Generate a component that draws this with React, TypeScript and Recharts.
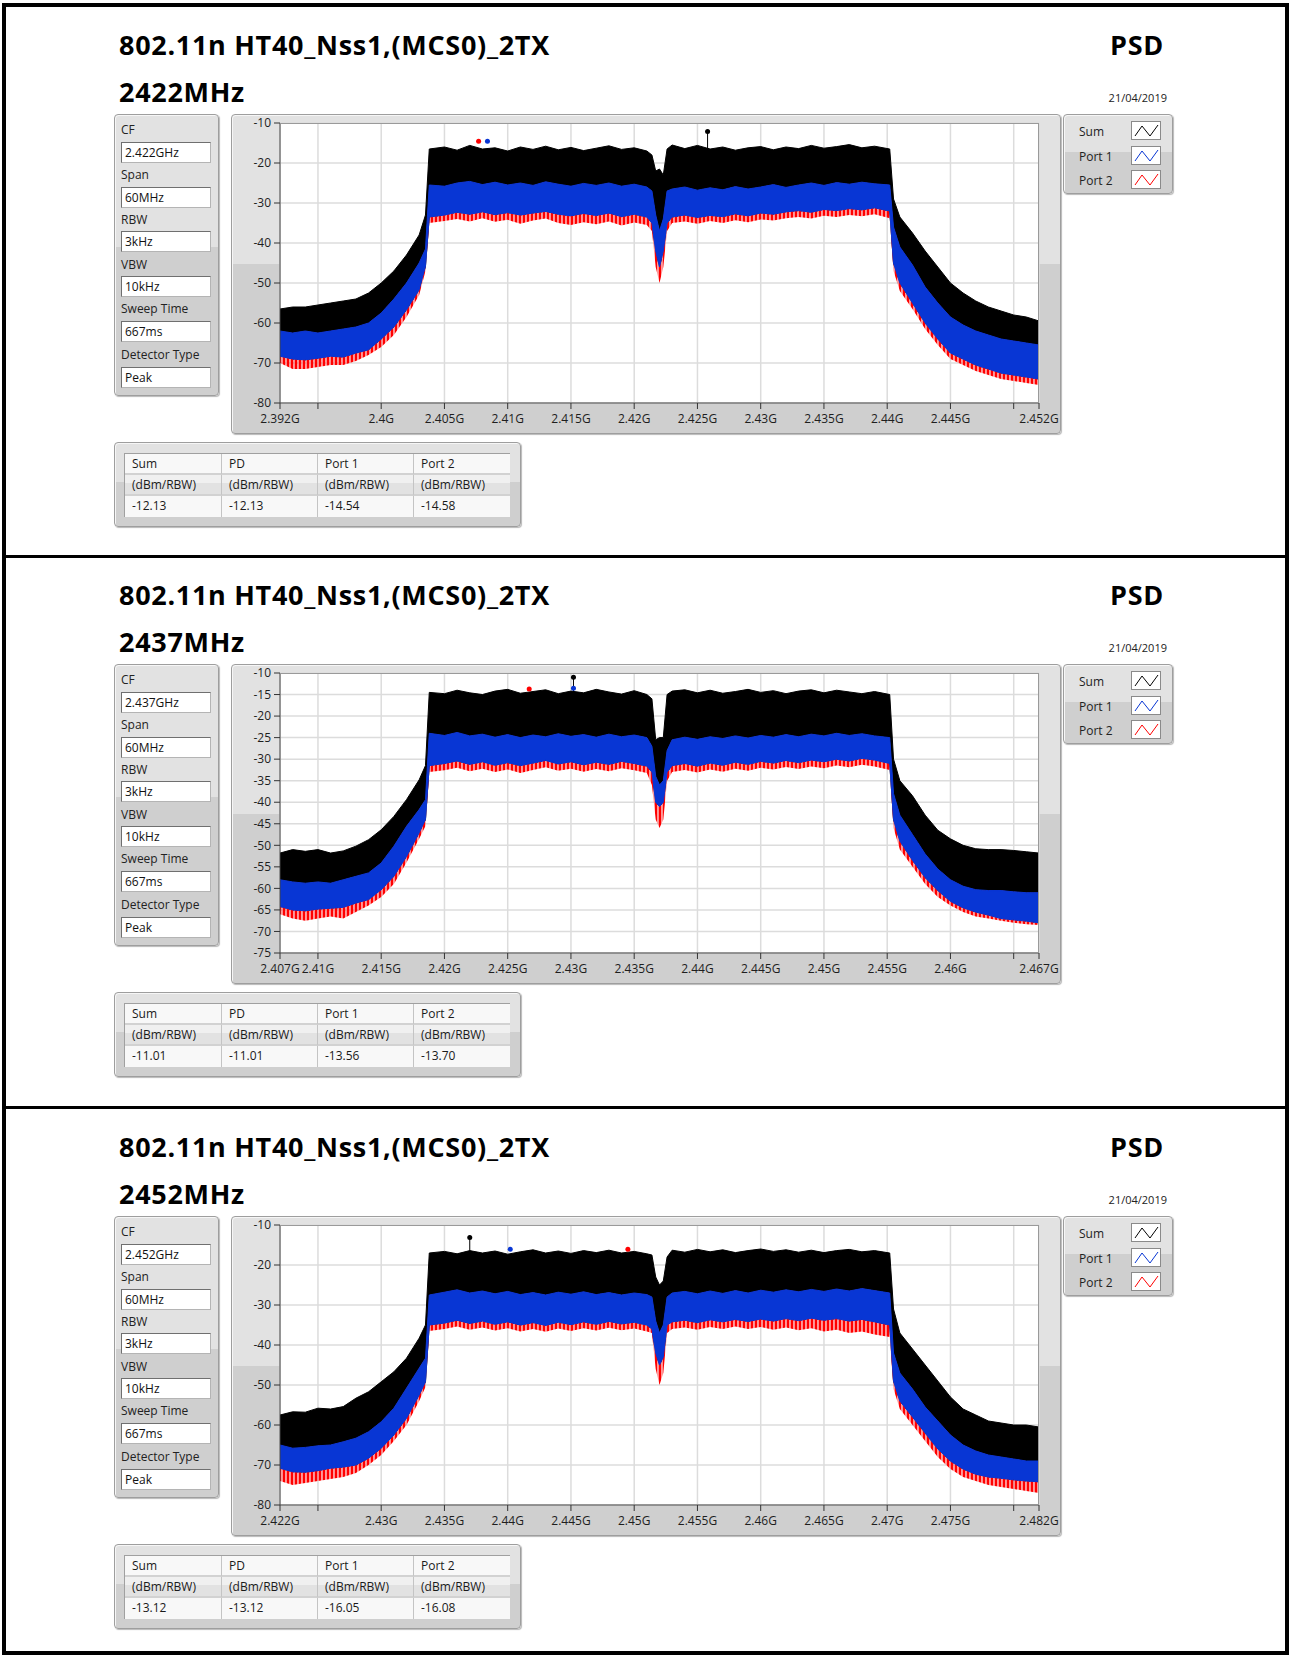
import React from 'react';
import { ComposedChart, Area, XAxis, YAxis, CartesianGrid, ReferenceDot, ReferenceLine } from 'recharts';

// Frequency grid: offsets from centre frequency (MHz)
const OFFSETS = [-30,-29,-28,-27,-26,-25,-24,-23,-22,-21,-20,-19,-18.5,-18.2,
  -17,-16,-15,-14,-13,-12,-11,-10,-9,-8,-7,-6,-5,-4,-3,-2,-1,
  -0.6,-0.3,0,0.3,0.6,
  1,2,3,4,5,6,7,8,9,10,11,12,13,14,15,16,17,
  18.2,18.5,19,20,21,22,23,24,25,26,27,28,29,30];

// ---- Panel 1 (2422 MHz) ----
const P1_SUM_HI = [-56.5,-56,-56,-55.5,-55,-54.5,-54,-52.5,-50,-47,-43,-38,-33,-16.5,
  -16,-16.8,-15.6,-16.5,-16.2,-17,-16,-16.6,-15.8,-16.7,-16.1,-16.9,-16.3,-15.7,-16.6,-16.2,-17,
  -18,-22,-21.5,-23,-16.5,
  -15.5,-16.4,-15.6,-16.5,-16,-16.8,-16.2,-15.9,-16.7,-16,-16.4,-15.6,-16.3,-15.9,-15.4,-16.2,-15.8,
  -16.5,-29,-33.5,-37.5,-42,-46,-50,-52.5,-54.5,-56,-57,-58,-58.5,-59.5];
const P1_PORT1_HI = [-62,-62.5,-62,-62.5,-62,-61.5,-61,-60,-57.5,-54,-50,-45,-41.5,-25.5,
  -25.8,-25,-24.6,-25.4,-24.8,-25.5,-25,-25.6,-24.7,-25.3,-25.8,-25.1,-25.6,-25,-25.8,-25.3,-26,
  -27,-33,-37,-34,-27,
  -26.5,-26,-26.8,-26.2,-26.7,-25.9,-26.5,-26,-25.4,-26.1,-25.5,-25,-25.6,-24.9,-25.3,-24.8,-25.2,
  -25.5,-36,-41,-45.5,-51,-55,-58.5,-60.5,-62,-63,-64,-64.5,-65,-65.5];
const P1_PORT1_LO = [-68.3,-69,-69.2,-68.8,-68.3,-68.5,-67.5,-66.7,-64,-61,-56.7,-51.7,-45.8,-33.5,
  -33,-32.3,-32.8,-32.2,-32.9,-32.4,-33,-32.5,-32.1,-32.8,-33.2,-32.6,-33.1,-32.5,-33.4,-32.8,-33.5,
  -35,-42,-46,-42,-35,
  -33.5,-33,-33.6,-33.1,-33.4,-32.7,-33.2,-32.5,-32.8,-32.2,-31.9,-32.3,-31.6,-31.9,-31.4,-31.7,-31.2,
  -32,-45,-50,-55,-60,-64,-67.5,-69,-70.5,-71.5,-72.5,-73,-73.5,-74];
const P1_PORT2_LO = [-70,-71.5,-71.5,-71,-70.5,-70.5,-69.5,-68,-66,-63,-58.5,-53,-47,-35,
  -34.5,-34,-34.6,-33.8,-34.7,-34.2,-35.2,-34.4,-33.9,-35,-35.5,-34.8,-35.3,-34.6,-35.6,-34.9,-35.5,
  -37,-46,-50,-46,-37,
  -35,-34.6,-35.2,-34.5,-35,-34.3,-34.8,-34.1,-34.4,-33.8,-33.5,-33.9,-33.2,-33.5,-33,-33.3,-32.8,
  -33.8,-47,-52,-56.5,-61.5,-65.5,-69,-70.5,-72,-73,-74,-74.5,-75,-75.5];

// ---- Panel 2 (2437 MHz) ----
const P2_SUM_HI = [-51.8,-51,-51.4,-51,-51.8,-51.3,-50.2,-48.7,-46.4,-43.3,-39.4,-34.8,-31.5,-14.5,
  -14.8,-14,-14.6,-15,-14.2,-13.8,-14.7,-14.3,-13.9,-14.8,-14.2,-14.6,-13.8,-14.4,-14.9,-14.1,-15,
  -16,-25.5,-25,-25,-15,
  -14.2,-13.9,-14.6,-14,-14.7,-14.3,-13.8,-14.5,-14.1,-14.8,-14.2,-13.9,-14.6,-14,-14.4,-14.8,-14.3,
  -15,-30,-35,-38.5,-43,-46.5,-48.5,-50,-50.8,-51,-51,-51.2,-51.5,-51.8];
const P2_PORT1_HI = [-58,-58.5,-58.8,-58.5,-58.8,-58,-57.2,-56.4,-54.1,-50.2,-45.6,-41.7,-39.4,-24,
  -24.5,-23.8,-24.6,-24.2,-24.9,-24.3,-25,-24.4,-24.8,-24.1,-24.7,-24.3,-24.9,-24.2,-24.8,-24.4,-25,
  -27,-34,-36,-35,-28,
  -25.5,-24.9,-25.4,-24.8,-25.2,-24.6,-25.1,-24.5,-24.9,-24.3,-24.8,-24.2,-24.6,-24,-24.5,-24.1,-24.6,
  -25,-38,-43,-47.5,-52,-55.5,-58,-59.5,-60.3,-60.5,-60.5,-60.8,-61,-61];
const P2_PORT1_LO = [-64.2,-65,-65.2,-64.8,-64.6,-64.4,-63.4,-62.6,-60.3,-57.2,-52.6,-47.1,-44,-31.5,
  -31,-30.4,-31.2,-30.6,-31.4,-30.8,-31.5,-30.9,-30.3,-31.1,-30.6,-31.3,-30.7,-31.2,-30.5,-31,-31.6,
  -33,-40,-41,-40,-33,
  -31.5,-31,-31.6,-30.9,-31.4,-30.7,-31.2,-30.5,-30.9,-30.3,-30.8,-30.2,-30.6,-30,-30.4,-29.8,-30.2,
  -31,-44,-49,-53.5,-57.5,-60.5,-63,-64.5,-65.5,-66.2,-67,-67.3,-67.6,-68];
const P2_PORT2_LO = [-66,-67,-67.5,-67,-66.5,-67,-65.5,-64,-62,-59,-54,-48.5,-45.5,-33,
  -32.6,-32,-32.8,-32.2,-33,-32.4,-33.2,-32.5,-31.9,-32.7,-32.2,-32.9,-32.3,-32.8,-32.1,-32.6,-33.2,
  -36,-44,-46,-44,-35,
  -33,-32.5,-33.1,-32.4,-32.9,-32.2,-32.7,-32,-32.4,-31.8,-32.3,-31.7,-32.1,-31.5,-31.9,-31.3,-31.7,
  -32.5,-46,-51,-55,-59,-62,-64,-65.5,-66.5,-67,-67.5,-68,-68.3,-68.5];

// ---- Panel 3 (2452 MHz) ----
const P3_SUM_HI = [-57.5,-56.7,-56.8,-55.8,-56,-55.4,-53.3,-51.7,-49.2,-46.7,-43.3,-38.3,-35,-17,
  -16.6,-17.2,-16.4,-17,-16.5,-17.3,-16.7,-16.2,-17,-16.5,-17.1,-16.4,-16.9,-16.3,-17,-16.6,-17.2,
  -17.5,-23,-25,-24,-18,
  -16.3,-16.8,-16.1,-16.7,-16.2,-16.9,-16.4,-16,-16.6,-16.2,-16.8,-16.3,-16.9,-16.4,-16.1,-16.7,-16.4,
  -17,-31,-37,-41,-45,-49,-53,-56,-57.5,-59,-59.5,-60,-60,-60.5];
const P3_PORT1_HI = [-65,-65.8,-65.6,-65.2,-65,-64.2,-63.3,-61.7,-59.2,-55.8,-50.8,-45.8,-43.3,-27.5,
  -26.8,-26.2,-27,-26.5,-27.2,-26.6,-27.4,-26.9,-27.5,-26.8,-27.3,-26.7,-27.4,-26.9,-27.5,-27,-27.4,
  -28,-34,-37,-35,-28,
  -27,-26.6,-27.2,-26.5,-27.1,-26.4,-27,-26.3,-26.8,-26.2,-26.7,-26.1,-26.6,-26,-26.5,-25.9,-26.4,
  -27,-42,-47,-51,-55.5,-59,-62.5,-65,-66.5,-67.5,-68,-68.5,-69,-69];
const P3_PORT1_LO = [-70.8,-71.7,-71.8,-71.4,-70.8,-70.5,-70,-68.3,-65.8,-62.5,-58.3,-52.5,-49.2,-35,
  -34.5,-33.8,-34.6,-34,-34.8,-34.2,-35,-34.4,-35.1,-34.3,-34.9,-34.2,-34.8,-34.1,-34.7,-34.3,-35,
  -36,-42,-45,-43,-35,
  -34.2,-33.8,-34.4,-33.7,-34.2,-33.6,-34.1,-33.5,-34,-33.4,-33.9,-33.3,-33.8,-33.4,-34,-33.6,-34.2,
  -35,-49,-54,-58,-62,-66,-69,-71,-72.3,-73,-73.3,-73.7,-74,-74.2];
const P3_PORT2_LO = [-74,-75,-74.5,-74,-73.5,-73,-72,-70,-67.5,-64,-60,-54,-50.5,-36.5,
  -36,-35.4,-36.2,-35.6,-36.4,-35.8,-36.6,-36,-36.7,-35.9,-36.5,-35.8,-36.4,-35.7,-36.3,-35.9,-36.6,
  -37,-46,-50,-47,-37,
  -36,-35.6,-36.2,-35.5,-36,-35.4,-36,-35.5,-36.2,-35.6,-36.3,-35.8,-36.6,-36.2,-37,-36.6,-37.4,
  -38,-51,-56,-60,-64,-68,-71,-73,-74,-75,-75.5,-76,-76.5,-77];

// Axis ticks
const X_TICKS_1 = [2392,2395,2400,2405,2410,2415,2420,2425,2430,2435,2440,2445,2450,2452];
const X_LABELS_1 = ['2.392G','','2.4G','2.405G','2.41G','2.415G','2.42G','2.425G','2.43G','2.435G','2.44G','2.445G','','2.452G'];
const X_TICKS_2 = [2407,2410,2415,2420,2425,2430,2435,2440,2445,2450,2455,2460,2465,2467];
const X_LABELS_2 = ['2.407G','2.41G','2.415G','2.42G','2.425G','2.43G','2.435G','2.44G','2.445G','2.45G','2.455G','2.46G','','2.467G'];
const X_TICKS_3 = [2422,2425,2430,2435,2440,2445,2450,2455,2460,2465,2470,2475,2480,2482];
const X_LABELS_3 = ['2.422G','','2.43G','2.435G','2.44G','2.445G','2.45G','2.455G','2.46G','2.465G','2.47G','2.475G','','2.482G'];
const Y_TICKS_10 = [-80,-70,-60,-50,-40,-30,-20,-10];
const Y_TICKS_5 = [-75,-70,-65,-60,-55,-50,-45,-40,-35,-30,-25,-20,-15,-10];

// Peak markers [freq MHz, level]
const MARK_1 = { sum: [2425.8, -12.13], p1: [2408.4, -14.54], p2: [2407.7, -14.58] };
const MARK_2 = { sum: [2430.2, -11.01], p1: [2430.2, -13.56], p2: [2426.7, -13.70] };
const MARK_3 = { sum: [2437.0, -13.12], p1: [2440.2, -16.05], p2: [2449.5, -16.08] };

// Texts
const TITLE = '802.11n HT40_Nss1,(MCS0)_2TX';
const SETTING_LABELS = ['CF', 'Span', 'RBW', 'VBW', 'Sweep Time', 'Detector Type'];
const SETTING_VALUES_1 = ['2.422GHz', '60MHz', '3kHz', '10kHz', '667ms', 'Peak'];
const SETTING_VALUES_2 = ['2.437GHz', '60MHz', '3kHz', '10kHz', '667ms', 'Peak'];
const SETTING_VALUES_3 = ['2.452GHz', '60MHz', '3kHz', '10kHz', '667ms', 'Peak'];
const TABLE_HEAD = ['Sum', 'PD', 'Port 1', 'Port 2'];
const TABLE_UNIT = ['(dBm/RBW)', '(dBm/RBW)', '(dBm/RBW)', '(dBm/RBW)'];
const TABLE_VALUES_1 = ['-12.13', '-12.13', '-14.54', '-14.58'];
const TABLE_VALUES_2 = ['-11.01', '-11.01', '-13.56', '-13.70'];
const TABLE_VALUES_3 = ['-13.12', '-13.12', '-16.05', '-16.08'];
const LEGEND = ['Sum', 'Port 1', 'Port 2'];
const DATE = '21/04/2019';

const COL_SUM = '#000000';
const COL_P1 = '#0836d4';
const COL_P2 = '#ff0000';

const PANELS = [
  { top: 0, cf: 2422, sumHi: P1_SUM_HI, p1Hi: P1_PORT1_HI, p1Lo: P1_PORT1_LO, p2Lo: P1_PORT2_LO, xt: X_TICKS_1, xl: X_LABELS_1, yt: Y_TICKS_10, yd: [-80, -10], mk: MARK_1, set: SETTING_VALUES_1, tv: TABLE_VALUES_1 },
  { top: 550, cf: 2437, sumHi: P2_SUM_HI, p1Hi: P2_PORT1_HI, p1Lo: P2_PORT1_LO, p2Lo: P2_PORT2_LO, xt: X_TICKS_2, xl: X_LABELS_2, yt: Y_TICKS_5, yd: [-75, -10], mk: MARK_2, set: SETTING_VALUES_2, tv: TABLE_VALUES_2 },
  { top: 1102, cf: 2452, sumHi: P3_SUM_HI, p1Hi: P3_PORT1_HI, p1Lo: P3_PORT1_LO, p2Lo: P3_PORT2_LO, xt: X_TICKS_3, xl: X_LABELS_3, yt: Y_TICKS_10, yd: [-80, -10], mk: MARK_3, set: SETTING_VALUES_3, tv: TABLE_VALUES_3 },
];

const FRAME: React.CSSProperties = {
  position: 'absolute', boxSizing: 'border-box', border: '1px solid #9e9e9e', borderRadius: 4,
  background: 'linear-gradient(#e2e2e2 0%, #e2e2e2 47%, #cfcfcf 47%, #cfcfcf 100%)',
  boxShadow: '1px 1px 1px #b8b8b8, inset 1px 1px 0 #f6f6f6',
};

const BIG: React.CSSProperties = { position: 'absolute', fontSize: 27, fontWeight: 700, lineHeight: '27px', whiteSpace: 'nowrap', letterSpacing: 0.7 };

function Swatch({ color }: { color: string }) {
  return (
    <svg width={30} height={19} style={{ position: 'absolute', left: 0, top: 0 }}>
      <rect x={0.5} y={0.5} width={29} height={18} fill="#fff" stroke="#8a8a8a" />
      <polyline points="4,15 11,5 19,15 27,4" fill="none" stroke={color} strokeWidth={1} />
    </svg>
  );
}

function Panel({ p, idx }: { p: any; idx: number }) {
  const off = p.top;
  const data = OFFSETS.map((o, i) => ({
    f: p.cf + o,
    sum: [p.p1Lo[i], p.sumHi[i]],
    p1: [p.p1Lo[i], p.p1Hi[i]],
    p2: [p.p2Lo[i], p.p1Hi[i]],
  }));
  const fmtX = (v: number) => {
    const k = p.xt.indexOf(v);
    return k >= 0 ? p.xl[k] : '';
  };
  const labelTops = [15, 60, 105, 150, 194, 240];
  const inputTops = [27, 72, 116, 161, 206, 252];
  const colX = [0, 97, 193, 289, 385];
  const hatchId = 'p2hatch' + idx;
  return (
    <>
      <div style={{ ...BIG, left: 119, top: 31 + off }}>{TITLE}</div>
      <div style={{ ...BIG, left: 119, top: 78 + off }}>{p.cf}MHz</div>
      <div style={{ ...BIG, left: 1000, width: 164, textAlign: 'right', top: 31 + off }}>PSD</div>
      <div style={{ position: 'absolute', left: 1000, width: 167, textAlign: 'right', top: 92 + off, fontSize: 11, lineHeight: '11px', color: '#222' }}>{DATE}</div>

      {/* settings box */}
      <div style={{ ...FRAME, left: 114, top: 114 + off, width: 105, height: 282 }}>
        {SETTING_LABELS.map((s, i) => (
          <div key={s} style={{ position: 'absolute', left: 6, top: labelTops[i] - 9, height: 18, lineHeight: '18px', fontSize: 12, color: '#222', whiteSpace: 'nowrap' }}>{s}</div>
        ))}
        {p.set.map((s: string, i: number) => (
          <div key={i} style={{ position: 'absolute', left: 6, top: inputTops[i], width: 90, height: 21, boxSizing: 'border-box', background: '#fff', border: '1px solid #b4b4b4', borderTopColor: '#6f6f6f', borderLeftColor: '#6f6f6f', fontSize: 12, lineHeight: '19px', paddingLeft: 3, color: '#111' }}>{s}</div>
        ))}
      </div>

      {/* graph frame */}
      <div style={{ ...FRAME, left: 231, top: 114 + off, width: 830, height: 320 }} />
      <div style={{ position: 'absolute', left: 231, top: 114 + off }}>
        <ComposedChart width={830} height={320} data={data} margin={{ top: 9, right: 22, bottom: 0, left: 0 }}>
          <defs>
            <pattern id={hatchId} patternUnits="userSpaceOnUse" width={4} height={7}>
              <rect x={0} y={0} width={2.4} height={7} fill={COL_P2} />
              <rect x={3} y={0} width={0.8} height={7} fill="#ff7070" />
            </pattern>
          </defs>
          <CartesianGrid fill="#ffffff" stroke="#dcdcdc" strokeWidth={1.5} />
          <XAxis type="number" dataKey="f" domain={[p.cf - 30, p.cf + 30]} ticks={p.xt} interval={0} allowDataOverflow
            tickFormatter={fmtX} height={31} tickSize={6} tickMargin={5}
            tick={{ fontSize: 12, fill: '#1e1e1e' }} stroke="#333" axisLine={{ stroke: '#444' }} tickLine={{ stroke: '#333' }} />
          <YAxis type="number" domain={p.yd} ticks={p.yt} interval={0} allowDataOverflow width={49} tickSize={6} tickMargin={3}
            tick={{ fontSize: 12, fill: '#1e1e1e' }} axisLine={{ stroke: '#444' }} tickLine={{ stroke: '#333' }} />
          <Area type="linear" dataKey="sum" stroke={COL_SUM} strokeWidth={1} fill={COL_SUM} fillOpacity={1} dot={false} activeDot={false} isAnimationActive={false} />
          <Area type="linear" dataKey="p2" stroke="none" fill={`url(#${hatchId})`} fillOpacity={1} dot={false} activeDot={false} isAnimationActive={false} />
          <Area type="linear" dataKey="p1" stroke={COL_P1} strokeWidth={1} fill={COL_P1} fillOpacity={1} dot={false} activeDot={false} isAnimationActive={false} />
          <ReferenceLine segment={[{ x: p.mk.sum[0], y: p.mk.sum[1] }, { x: p.mk.sum[0], y: p.mk.sum[1] - 5 }]} stroke={COL_SUM} strokeWidth={1} />
          <ReferenceDot x={p.mk.p2[0]} y={p.mk.p2[1]} r={2.5} fill={COL_P2} stroke="none" />
          <ReferenceDot x={p.mk.p1[0]} y={p.mk.p1[1]} r={2.5} fill={COL_P1} stroke="none" />
          <ReferenceDot x={p.mk.sum[0]} y={p.mk.sum[1]} r={2.5} fill={COL_SUM} stroke="none" />
        </ComposedChart>
      </div>
      <div style={{ position: 'absolute', left: 280, top: 123 + off, width: 759, height: 280, boxSizing: 'border-box', borderTop: '1px solid #9a9a9a', borderRight: '1px solid #9a9a9a', pointerEvents: 'none' }} />

      {/* legend */}
      <div style={{ ...FRAME, left: 1063, top: 114 + off, width: 110, height: 80 }}>
        {LEGEND.map((s, i) => (
          <React.Fragment key={s}>
            <div style={{ position: 'absolute', left: 15, top: 7 + i * 24.5, height: 19, lineHeight: '19px', fontSize: 12, color: '#222' }}>{s}</div>
            <div style={{ position: 'absolute', left: 67, top: 6 + i * 24.5, width: 30, height: 19 }}>
              <Swatch color={[COL_SUM, COL_P1, COL_P2][i]} />
            </div>
          </React.Fragment>
        ))}
      </div>

      {/* results table */}
      <div style={{ ...FRAME, left: 114, top: 442 + off, width: 407, height: 85 }}>
        <div style={{ position: 'absolute', left: 9, top: 10, width: 386, height: 64, boxSizing: 'border-box', border: '1px solid #a0a0a0', background: '#f6f6f6' }}>
          {[TABLE_HEAD, TABLE_UNIT, p.tv].map((row: string[], r: number) => row.map((s: string, c: number) => (
            <div key={r + '-' + c} style={{ position: 'absolute', left: colX[c], top: r * 21, width: colX[c + 1] - colX[c], height: 21, boxSizing: 'border-box',
              borderRight: c < 3 ? '1px solid #c4c4c4' : 'none', borderBottom: r < 2 ? '2px solid #d2d2d2' : 'none',
              background: r === 1 ? 'linear-gradient(#f0f0f0 0%, #f0f0f0 40%, #e2e2e2 40%, #e2e2e2 100%)' : '#f8f8f8',
              fontSize: 12, lineHeight: '20px', paddingLeft: 7, color: '#1a1a1a', whiteSpace: 'nowrap' }}>{s}</div>
          )))}
        </div>
      </div>
    </>
  );
}

export default function App() {
  return (
    <div style={{ position: 'absolute', left: 0, top: 0, width: 1290, height: 1657, background: '#fff', fontFamily: '"Open Sans", "Noto Sans", sans-serif', color: '#000', overflow: 'hidden' }}>
      <div style={{ position: 'absolute', left: 2, top: 3, width: 1287, height: 1652, boxSizing: 'border-box', border: '4px solid #000' }} />
      <div style={{ position: 'absolute', left: 2, top: 555, width: 1287, height: 3, background: '#000' }} />
      <div style={{ position: 'absolute', left: 2, top: 1106, width: 1287, height: 3, background: '#000' }} />
      {PANELS.map((p, i) => <Panel key={p.cf} p={p} idx={i} />)}
    </div>
  );
}
